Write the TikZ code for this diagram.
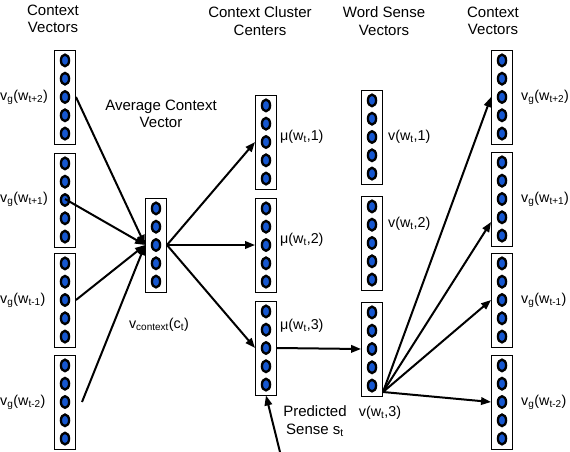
\documentclass[tikz,border=0pt]{standalone}
\usepackage{fontspec}
\setmainfont{Liberation Sans}
\usetikzlibrary{arrows.meta,calc}
\tikzset{
  vec/.style={draw, line width=0.9pt, minimum width=21pt, minimum height=94pt, inner sep=0pt},
  dot/.style={draw=black, line width=2.3pt, fill=blueDot},
  arr/.style={line width=2pt, -{Triangle[length=10pt,width=7.5pt]}},
  lbl/.style={inner sep=0pt, font=\fontsize{14.3}{16}\selectfont},
  hdr/.style={inner sep=0pt, align=center, font=\fontsize{15}{17.5}\selectfont}
}
\definecolor{blueDot}{HTML}{1657D0}
\newcommand{\vecnode}[3]{%
  \node[vec] (#1) at (#2,#3) {};
  \foreach \k in {-2,...,2} \draw[dot] ($(#1.center)+(0,\k*18.3)$) ellipse[x radius=4.1pt, y radius=5.8pt];%
}
\begin{document}
\begin{tikzpicture}[x=1pt,y=-1pt]
\useasboundingbox (0,0) rectangle (570,452);
% headers
\node[hdr] (h1) at (53,19) {Context\\Vectors};
\node[hdr] (h2) at (161,114) {Average Context\\Vector};
\node[hdr] (h3) at (260,21) {Context Cluster\\Centers};
\node[hdr] (h4) at (384,21) {Word Sense\\Vectors};
\node[hdr] (h5) at (493,21) {Context\\Vectors};
% vectors
\vecnode{l1}{65}{97}
\vecnode{l2}{65}{200}
\vecnode{l3}{65}{300}
\vecnode{l4}{65}{402}
\vecnode{avg}{156}{245}
\vecnode{c1}{266}{142}
\vecnode{c2}{266}{245}
\vecnode{c3}{266}{348}
\vecnode{s1}{372}{137}
\vecnode{s2}{372}{243}
\vecnode{s3}{372}{349}
\vecnode{r1}{502}{97}
\vecnode{r2}{502}{199}
\vecnode{r3}{502}{300}
\vecnode{r4}{502}{402}
% labels
\node[lbl, anchor=west] (ll1) at (0,97) {v\textsubscript{g}(w\textsubscript{t+2})};
\node[lbl, anchor=west] (ll2) at (0,199) {v\textsubscript{g}(w\textsubscript{t+1})};
\node[lbl, anchor=west] (ll3) at (0,300) {v\textsubscript{g}(w\textsubscript{t-1})};
\node[lbl, anchor=west] (ll4) at (0,402) {v\textsubscript{g}(w\textsubscript{t-2})};
\node[lbl, anchor=west] (rl1) at (521,97) {v\textsubscript{g}(w\textsubscript{t+2})};
\node[lbl, anchor=west] (rl2) at (521,199) {v\textsubscript{g}(w\textsubscript{t+1})};
\node[lbl, anchor=west] (rl3) at (521,300) {v\textsubscript{g}(w\textsubscript{t-1})};
\node[lbl, anchor=west] (rl4) at (521,402) {v\textsubscript{g}(w\textsubscript{t-2})};
\node[lbl] (avl) at (159,325) {v\textsubscript{context}(c\textsubscript{t})};
\node[lbl, anchor=west] (cl1) at (280,137) {μ(w\textsubscript{t},1)};
\node[lbl, anchor=west] (cl2) at (280,240) {μ(w\textsubscript{t},2)};
\node[lbl, anchor=west] (cl3) at (280,326) {μ(w\textsubscript{t},3)};
\node[lbl, anchor=west] (sl1) at (388,137) {v(w\textsubscript{t},1)};
\node[lbl, anchor=west] (sl2) at (388,224) {v(w\textsubscript{t},2)};
\node[lbl] (sl3) at (380,413) {v(w\textsubscript{t},3)};
\node[hdr] (pred) at (315,421) {Predicted\\Sense s\textsubscript{t}};
% coordinates
\coordinate (l2c) at (65,199);
\coordinate (l4s) at (82,402);
\coordinate (ps) at (280,452);
\coordinate (ws) at (383,392);
\coordinate (r2t) at ($(r2.west)+(0,23)$);
% connectors
\draw[arr] (l1.east) -- (avg.west);
\draw[arr] (l2c) -- (avg.west);
\draw[arr] (l3.east) -- (avg.west);
\draw[arr] (l4s) -- (avg.west);
\draw[arr] (avg.east) -- (c1.west);
\draw[arr] (avg.east) -- (c2.west);
\draw[arr] (avg.east) -- (c3.west);
\draw[arr] (c3.east) -- (s3.west);
\draw[arr] (ps) -- (c3.south);
\draw[arr] (ws) -- (r1.west);
\draw[arr] (ws) -- (r2t);
\draw[arr] (ws) -- (r3.west);
\draw[arr] (ws) -- (r4.west);
\end{tikzpicture}
\end{document}
